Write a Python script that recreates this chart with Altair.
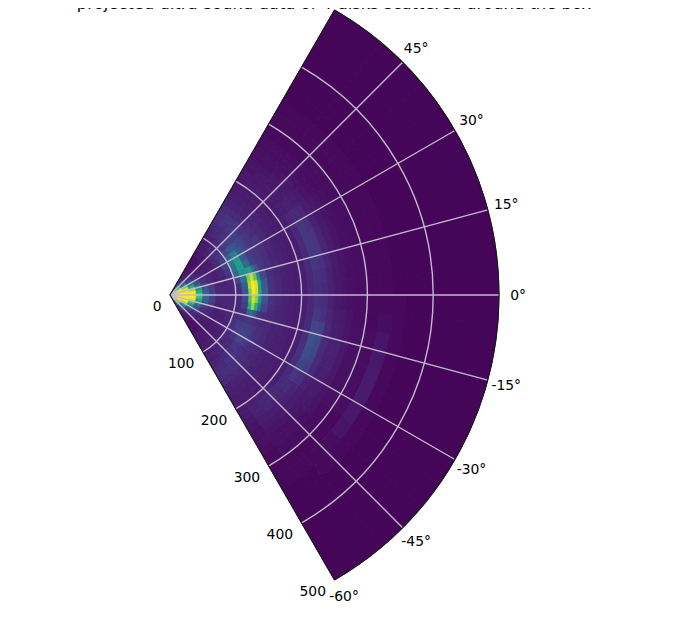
import math
import altair as alt
import pandas as pd

TITLE = "projected ultra-sound data of 4 disks scattered around the box"
THETA_EDGES = list(range(-60, 61, 5))
R_EDGES = [0, 10, 20, 30, 40, 50, 60, 70, 80, 90, 100, 110, 120, 125, 130, 135, 140, 150, 160, 170, 180,
           190, 200, 210, 220, 230, 240, 250, 260, 270, 280, 300, 320, 340, 360, 400, 500]
HEAT = [
    [30, 45, 60, 75, 90, 100, 100, 100, 100, 100, 100, 100, 100, 100, 100, 100, 100, 100, 100, 90, 75, 60, 45, 30],
    [18, 25, 38, 58, 75, 90, 100, 100, 100, 100, 100, 100, 100, 100, 100, 100, 100, 100, 90, 75, 58, 38, 25, 18],
    [10, 12, 18, 28, 42, 60, 80, 95, 100, 100, 100, 100, 100, 100, 100, 100, 95, 80, 60, 42, 28, 18, 12, 10],
    [6, 7, 9, 12, 18, 28, 42, 58, 72, 88, 100, 100, 100, 100, 88, 72, 58, 42, 28, 18, 12, 9, 7, 6],
    [4, 5, 6, 8, 11, 14, 20, 28, 38, 50, 62, 70, 70, 62, 50, 38, 28, 20, 14, 11, 8, 6, 5, 4],
    [4, 4, 5, 6, 8, 10, 12, 14, 18, 24, 30, 35, 35, 30, 24, 18, 14, 12, 10, 8, 6, 5, 4, 4],
    [4, 4, 5, 6, 7, 8, 10, 10, 12, 15, 18, 18, 18, 18, 15, 12, 10, 10, 8, 7, 6, 5, 4, 4],
    [5, 6, 6, 6, 7, 7, 8, 8, 8, 9, 10, 11, 11, 10, 9, 8, 8, 8, 8, 7, 7, 6, 6, 5],
    [6, 6, 7, 7, 7, 8, 8, 8, 9, 9, 10, 10, 10, 10, 9, 9, 10, 10, 11, 12, 11, 8, 7, 6],
    [7, 7, 7, 8, 8, 9, 9, 10, 10, 10, 10, 10, 10, 10, 11, 14, 16, 18, 18, 16, 13, 10, 8, 7],
    [7, 8, 9, 10, 11, 12, 14, 14, 12, 11, 11, 11, 12, 13, 20, 32, 38, 40, 32, 22, 15, 12, 9, 8],
    [8, 9, 10, 11, 12, 15, 18, 17, 14, 13, 18, 22, 26, 30, 38, 50, 56, 55, 44, 28, 18, 13, 11, 9],
    [9, 10, 12, 14, 16, 20, 20, 18, 15, 30, 62, 72, 80, 88, 80, 52, 34, 30, 28, 24, 18, 14, 12, 11],
    [9, 10, 12, 14, 16, 20, 20, 18, 15, 36, 84, 94, 100, 100, 92, 56, 34, 28, 26, 22, 18, 14, 12, 11],
    [11, 12, 14, 15, 14, 17, 18, 17, 14, 24, 62, 80, 92, 95, 74, 38, 20, 18, 20, 20, 18, 15, 14, 13],
    [11, 12, 13, 14, 13, 15, 16, 15, 13, 16, 36, 50, 58, 58, 46, 26, 18, 17, 18, 18, 16, 15, 14, 13],
    [12, 13, 13, 13, 12, 13, 14, 13, 12, 13, 20, 26, 30, 28, 22, 16, 15, 15, 15, 15, 14, 15, 15, 13],
    [12, 11, 11, 11, 10, 11, 11, 11, 11, 11, 13, 14, 14, 14, 13, 13, 13, 14, 15, 13, 12, 12, 12, 11],
    [9, 9, 9, 9, 9, 9, 9, 9, 9, 10, 10, 11, 11, 11, 10, 10, 10, 11, 11, 11, 10, 9, 9, 9],
    [8, 8, 8, 8, 8, 8, 8, 8, 9, 9, 9, 9, 9, 9, 9, 9, 9, 9, 9, 9, 9, 8, 8, 8],
    [7, 7, 7, 8, 8, 8, 8, 8, 8, 8, 8, 8, 8, 8, 8, 8, 8, 8, 8, 8, 8, 7, 7, 7],
    [7, 7, 7, 7, 7, 7, 7, 7, 7, 7, 7, 7, 7, 7, 7, 7, 7, 7, 7, 7, 7, 7, 7, 7],
    [7, 8, 9, 9, 8, 8, 8, 8, 8, 8, 8, 8, 8, 8, 8, 8, 8, 8, 8, 7, 7, 7, 7, 6],
    [7, 9, 10, 11, 11, 12, 13, 14, 13, 12, 11, 11, 11, 11, 12, 12, 12, 11, 10, 8, 7, 6, 6, 6],
    [6, 9, 10, 10, 12, 16, 20, 23, 24, 21, 16, 14, 13, 14, 15, 16, 16, 15, 12, 9, 7, 6, 6, 5],
    [5, 7, 8, 9, 10, 13, 18, 21, 22, 19, 14, 13, 12, 13, 14, 15, 15, 14, 11, 8, 7, 6, 5, 5],
    [4, 6, 6, 7, 8, 9, 11, 12, 12, 11, 10, 9, 9, 9, 10, 10, 10, 9, 8, 7, 6, 5, 4, 4],
    [4, 5, 5, 6, 6, 7, 8, 9, 9, 8, 7, 6, 6, 6, 7, 7, 7, 6, 6, 5, 5, 4, 4, 4],
    [4, 4, 4, 5, 6, 7, 8, 9, 9, 7, 6, 5, 5, 5, 5, 5, 5, 5, 5, 4, 4, 4, 3, 3],
    [3, 4, 4, 4, 5, 5, 6, 6, 6, 5, 5, 4, 4, 4, 4, 4, 4, 4, 4, 3, 3, 3, 3, 3],
    [2, 3, 3, 3, 3, 4, 4, 4, 4, 4, 3, 3, 3, 3, 3, 3, 3, 3, 3, 3, 3, 2, 2, 2],
    [2, 2, 2, 2, 2, 3, 3, 3, 3, 3, 2, 2, 2, 2, 2, 2, 2, 2, 2, 2, 2, 2, 2, 2],
    [2, 2, 2, 3, 5, 6, 7, 7, 6, 5, 3, 2, 2, 2, 2, 2, 2, 2, 2, 2, 2, 2, 2, 2],
    [1, 1, 2, 2, 2, 2, 2, 2, 2, 2, 2, 2, 1, 1, 1, 1, 1, 1, 1, 1, 1, 1, 1, 1],
    [1, 1, 1, 1, 1, 1, 1, 1, 1, 1, 1, 1, 1, 1, 1, 1, 1, 1, 1, 1, 1, 1, 1, 1],
    [1, 1, 1, 1, 1, 1, 1, 1, 1, 1, 1, 1, 1, 1, 1, 1, 1, 1, 1, 1, 1, 1, 1, 1],
]
THETA_GRID = [-45, -30, -15, 0, 15, 30, 45]
R_GRID = [100, 200, 300, 400]
THETA_LABELS = [45, 30, 15, 0, -15, -30, -45, -60]
R_LABELS = [0, 100, 200, 300, 400, 500]
RMAX = 500

CX, CY, RPX = 162, 287, 329
rad = lambda d: (90 - d) * math.pi / 180
theta_scale = alt.Scale(domain=[-60, 60], range=[rad(-60), rad(60)])
radius_scale = alt.Scale(type="linear", domain=[0, RMAX], range=[0, RPX])
color_scale = alt.Scale(scheme="viridis", domain=[0, 100])

cells = pd.DataFrame([
    {"t1": THETA_EDGES[j], "t2": THETA_EDGES[j + 1], "r1": R_EDGES[i], "r2": R_EDGES[i + 1], "v": v}
    for i, row in enumerate(HEAT) for j, v in enumerate(row)
])
center = dict(x=alt.value(CX), y=alt.value(CY))


def T(f):
    return alt.Theta(f, type="quantitative", scale=theta_scale, stack=None)


def R(f):
    return alt.Radius(f, type="quantitative", scale=radius_scale)


heat = alt.Chart(cells).mark_arc(strokeWidth=0.9).encode(
    theta=T("t1"), theta2="t2", radius=R("r1"), radius2="r2",
    color=alt.Color("v:Q", scale=color_scale, legend=None),
    stroke=alt.Stroke("v:Q", scale=color_scale, legend=None), **center)

GRID = "#c3b8cb"
rays = alt.Chart(pd.DataFrame({"t": THETA_GRID, "r0": 0, "r1": RMAX})).mark_arc(
    stroke=GRID, strokeWidth=1.4, fillOpacity=0).encode(
    theta=T("t"), theta2="t", radius=R("r0"), radius2="r1", **center)
rings = alt.Chart(pd.DataFrame({"r": R_GRID, "t0": -60, "t1": 60})).mark_arc(
    stroke=GRID, strokeWidth=1.4, fillOpacity=0).encode(
    theta=T("t0"), theta2="t1", radius=R("r"), radius2="r", **center)

edge_rays = alt.Chart(pd.DataFrame({"t": [-60, 60], "r0": 0, "r1": RMAX})).mark_arc(
    stroke="#1a1a1a", strokeWidth=1.1, fillOpacity=0).encode(
    theta=T("t"), theta2="t", radius=R("r0"), radius2="r1", **center)
edge_arc = alt.Chart(pd.DataFrame({"r": [RMAX], "t0": -60, "t1": 60})).mark_arc(
    stroke="#1a1a1a", strokeWidth=1.1, fillOpacity=0).encode(
    theta=T("t0"), theta2="t1", radius=R("r"), radius2="r", **center)

theta_text = alt.Chart(pd.DataFrame({
    "t": THETA_LABELS, "r": 529, "s": [f"{a}°" for a in THETA_LABELS]
})).mark_text(font="DejaVu Sans", fontSize=13.9, color="black", align="center", baseline="middle", dy=0.5).encode(
    theta=T("t"), radius=R("r"), text="s:N", **center)
r_text = alt.Chart(pd.DataFrame({
    "r": R_LABELS, "t": -60, "s": [str(a) for a in R_LABELS]
})).mark_text(font="DejaVu Sans", fontSize=13.9, color="black", align="right", baseline="middle", dx=-8.5, dy=12).encode(
    theta=T("t"), radius=R("r"), text="s:N", **center)
title = alt.Chart(pd.DataFrame({"s": [TITLE]})).mark_text(
    font="DejaVu Sans", fontSize=16.4, color="black", align="center", baseline="alphabetic").encode(
    x=alt.value(326), y=alt.value(1), text="s:N")

chart = alt.layer(heat, rays, rings, edge_rays, edge_arc, theta_text, r_text, title).properties(
    width=664, height=608, padding=0,
    autosize=alt.AutoSizeParams(type="none"), background="white",
).configure_view(stroke=None)

chart.save("out.html", embed_options={"renderer": "svg", "actions": False})
